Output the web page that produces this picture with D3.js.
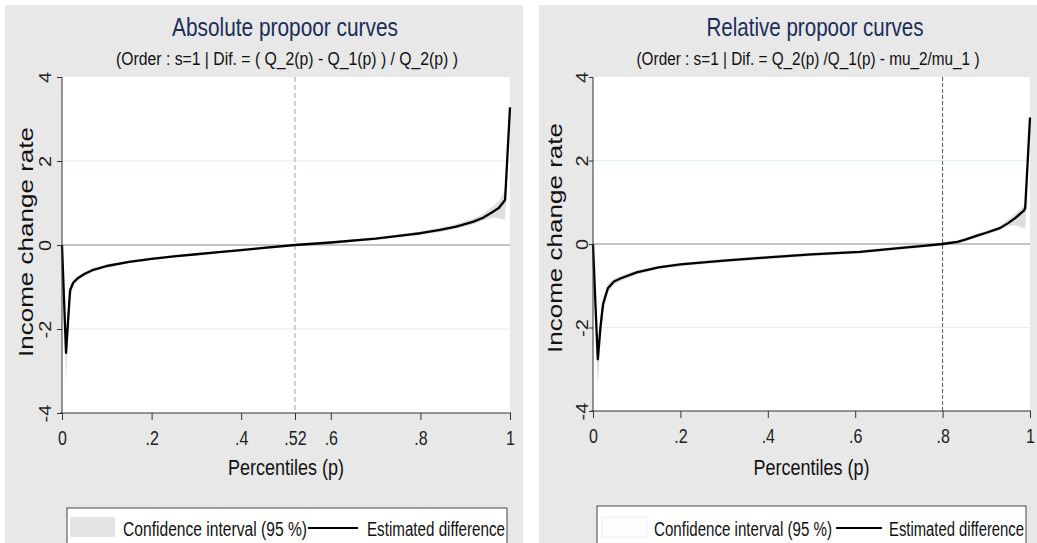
<!DOCTYPE html>
<html>
<head>
<meta charset="utf-8">
<script src="https://cdn.jsdelivr.net/npm/d3@7"></script>
<style>
  body { margin: 0; background: #fff; }
  svg { display: block; font-family: "Liberation Sans", Arial, sans-serif; }
</style>
</head>
<body>
<svg id="chart" width="1037" height="543"></svg>
<script>
'use strict';

// ---- data ----
const yTicks = [-4, -2, 0, 2, 4];
const yTickLabels = ["-4", "-2", "0", "2", "4"];

// absolute propoor curve
const pAbs   = [0, 0.004, 0.009, 0.013, 0.018, 0.025, 0.035, 0.05, 0.07, 0.1, 0.15, 0.2, 0.25, 0.3, 0.35, 0.4, 0.45, 0.52, 0.6, 0.7, 0.77, 0.8, 0.844, 0.88, 0.917, 0.94, 0.962, 0.975, 0.989, 1];
const estAbs = [0, -1.15, -2.57, -1.9, -1.08, -0.9, -0.79, -0.69, -0.59, -0.5, -0.4, -0.33, -0.27, -0.22, -0.17, -0.12, -0.07, 0, 0.06, 0.15, 0.24, 0.28, 0.36, 0.44, 0.55, 0.65, 0.79, 0.88, 1.07, 3.28];
const loAbs  = [0, -1.5, -3.3, -2.3, -1.3, -0.98, -0.85, -0.74, -0.63, -0.54, -0.43, -0.36, -0.3, -0.25, -0.2, -0.15, -0.1, -0.03, 0.03, 0.12, 0.2, 0.24, 0.31, 0.39, 0.49, 0.58, 0.66, 0.63, 0.6, 3.2];
const hiAbs  = [0, -1.0, -2.4, -1.6, -0.95, -0.83, -0.74, -0.64, -0.55, -0.46, -0.37, -0.3, -0.24, -0.19, -0.14, -0.09, -0.04, 0.03, 0.09, 0.18, 0.28, 0.32, 0.41, 0.5, 0.62, 0.74, 0.92, 1.05, 1.3, 3.35];
const xTicksAbs = [0, 0.2, 0.4, 0.52, 0.6, 0.8, 1];
const xLabelsAbs = ["0", ".2", ".4", ".52", ".6", ".8", "1"];
const crossAbs = 0.52;

// relative propoor curve
const pRel   = [0, 0.005, 0.011, 0.017, 0.023, 0.034, 0.048, 0.064, 0.1, 0.15, 0.2, 0.3, 0.4, 0.5, 0.611, 0.7, 0.75, 0.8, 0.834, 0.85, 0.879, 0.9, 0.931, 0.95, 0.966, 0.986, 0.989, 1];
const estRel = [0, -1.3, -2.76, -2.0, -1.44, -1.06, -0.9, -0.82, -0.68, -0.56, -0.49, -0.4, -0.32, -0.25, -0.19, -0.1, -0.05, 0, 0.05, 0.1, 0.2, 0.27, 0.38, 0.5, 0.62, 0.8, 0.86, 3.03];
const loRel  = [0, -1.7, -3.45, -2.4, -1.65, -1.18, -0.98, -0.88, -0.73, -0.6, -0.53, -0.44, -0.36, -0.29, -0.23, -0.14, -0.09, -0.04, 0.01, 0.06, 0.15, 0.22, 0.33, 0.43, 0.45, 0.38, 0.36, 2.95];
const hiRel  = [0, -1.0, -2.6, -1.7, -1.28, -0.96, -0.83, -0.76, -0.63, -0.52, -0.45, -0.36, -0.28, -0.21, -0.15, -0.06, -0.01, 0.04, 0.09, 0.14, 0.25, 0.32, 0.44, 0.58, 0.72, 0.92, 0.98, 3.1];
const xTicksRel = [0, 0.2, 0.4, 0.6, 0.8, 1];
const xLabelsRel = ["0", ".2", ".4", ".6", ".8", "1"];
const crossRel = 0.8;

const svg = d3.select("#chart");

function drawPanel(cfg) {
  const g = svg.append("g");

  // grey graph region
  g.append("rect")
    .attr("x", cfg.bg[0]).attr("y", 5)
    .attr("width", cfg.bg[1] - cfg.bg[0]).attr("height", 543 - 5)
    .attr("fill", "#e8e8e8");

  const x = d3.scaleLinear().domain([0, 1]).range([cfg.left, cfg.right]);
  const y = d3.scaleLinear().domain([-4, 4]).range([cfg.bottom, 77]);

  // plot region
  g.append("rect")
    .attr("x", cfg.left).attr("y", 77)
    .attr("width", cfg.right - cfg.left).attr("height", cfg.bottom - 77)
    .attr("fill", "#fff");

  // grid lines
  g.selectAll(".grid").data([-2, 2]).enter().append("line")
    .attr("x1", cfg.left).attr("x2", cfg.right)
    .attr("y1", d => y(d)).attr("y2", d => y(d))
    .attr("stroke", "#e2eef0").attr("stroke-width", 1.2);

  const rows = cfg.p.map((p, i) => ({ p: p, est: cfg.est[i], lo: cfg.lo[i], hi: cfg.hi[i] }));

  // confidence band
  g.append("path").datum(rows)
    .attr("d", d3.area().x(d => x(d.p)).y0(d => y(d.lo)).y1(d => y(d.hi)))
    .attr("fill", "#dedede");

  // zero line
  g.append("line")
    .attr("x1", cfg.left).attr("x2", cfg.right)
    .attr("y1", y(0)).attr("y2", y(0))
    .attr("stroke", "#8c8c8c").attr("stroke-width", 1.2);

  // crossing line
  g.append("line")
    .attr("x1", x(cfg.cross)).attr("x2", x(cfg.cross))
    .attr("y1", 77).attr("y2", cfg.bottom)
    .attr("stroke", cfg.crossColor).attr("stroke-width", 1)
    .attr("stroke-dasharray", cfg.crossDash);

  // estimated difference
  g.append("path").datum(rows)
    .attr("d", d3.line().x(d => x(d.p)).y(d => y(d.est)))
    .attr("fill", "none").attr("stroke", "#000").attr("stroke-width", 2.3)
    .attr("stroke-linejoin", "round");

  // x axis
  const xa = g.append("g").attr("transform", `translate(0,${cfg.bottom})`)
    .call(d3.axisBottom(x).tickValues(cfg.xTicks).tickSize(7)
      .tickFormat((d, i) => cfg.xLabels[i]));
  xa.select(".domain").attr("stroke", "#333").attr("d", `M${cfg.left - 2},0H${cfg.right + 1}`);
  xa.selectAll(".tick line").attr("stroke", "#333");
  xa.selectAll(".tick text")
    .attr("y", 32).attr("dy", null)
    .attr("transform", "scale(0.8,1)")
    .attr("font-size", 20).attr("fill", "#222");

  // y axis
  const ya = g.append("g").attr("transform", `translate(${cfg.left},0)`)
    .call(d3.axisLeft(y).tickValues(yTicks).tickSize(cfg.ytick)
      .tickFormat((d, i) => yTickLabels[i]));
  ya.select(".domain").attr("stroke", "#333").attr("d", `M0,77V${cfg.bottom}`);
  ya.selectAll(".tick line").attr("stroke", "#333");
  ya.selectAll(".tick text")
    .attr("x", 0).attr("dy", null).attr("text-anchor", "middle")
    .attr("transform", `translate(${-cfg.ylabGap},0) scale(0.8,1) rotate(-90)`)
    .attr("font-size", 20).attr("fill", "#222");

  // titles
  g.append("text").attr("x", cfg.titleX).attr("y", 36)
    .attr("text-anchor", "middle").attr("font-size", 26).attr("fill", "#1c2d5a")
    .attr("textLength", cfg.titleLen).attr("lengthAdjust", "spacingAndGlyphs")
    .text(cfg.title);
  g.append("text").attr("x", cfg.subX).attr("y", 65)
    .attr("text-anchor", "middle").attr("font-size", 18).attr("fill", "#111")
    .attr("textLength", cfg.subLen).attr("lengthAdjust", "spacingAndGlyphs")
    .text(cfg.subtitle);

  // axis titles
  g.append("text").attr("x", (cfg.left + cfg.right) / 2).attr("y", 475)
    .attr("text-anchor", "middle").attr("font-size", 22).attr("fill", "#111")
    .attr("textLength", 116).attr("lengthAdjust", "spacingAndGlyphs")
    .text("Percentiles (p)");
  g.append("text")
    .attr("transform", `translate(${cfg.ylabX},${cfg.ylabY}) scale(0.8,1) rotate(-90)`)
    .attr("text-anchor", "middle").attr("font-size", 26).attr("fill", "#111")
    .attr("textLength", 230).attr("lengthAdjust", "spacingAndGlyphs")
    .text("Income change rate");

  // legend
  const L = cfg.legend;
  g.append("rect").attr("x", L.x0).attr("y", L.top)
    .attr("width", L.x1 - L.x0).attr("height", 60)
    .attr("fill", "#fff").attr("stroke", "#444").attr("stroke-width", 1);
  g.append("rect").attr("x", L.sw).attr("y", 517).attr("width", 45).attr("height", 20)
    .attr("fill", cfg.swatch).attr("stroke", cfg.swatchStroke);
  g.append("text").attr("x", L.t1).attr("y", 536).attr("font-size", 20).attr("fill", "#111")
    .attr("textLength", L.t1len).attr("lengthAdjust", "spacingAndGlyphs")
    .text("Confidence interval (95 %)");
  g.append("line").attr("x1", L.l0).attr("x2", L.l1).attr("y1", 528).attr("y2", 528)
    .attr("stroke", "#000").attr("stroke-width", 2);
  g.append("text").attr("x", L.t2).attr("y", 536).attr("font-size", 20).attr("fill", "#111")
    .attr("textLength", L.t2len).attr("lengthAdjust", "spacingAndGlyphs")
    .text("Estimated difference");
}

drawPanel({
  bg: [5, 523], left: 62, right: 510, bottom: 413,
  p: pAbs, est: estAbs, lo: loAbs, hi: hiAbs,
  xTicks: xTicksAbs, xLabels: xLabelsAbs,
  cross: crossAbs, crossColor: "#a0a0a0", crossDash: "5,3",
  ytick: 5, ylabGap: 11, ylabX: 33, ylabY: 242,
  title: "Absolute propoor curves", titleX: 285, titleLen: 226,
  subtitle: "(Order : s=1 | Dif. = ( Q_2(p) - Q_1(p) ) / Q_2(p) )", subX: 287, subLen: 342,
  swatch: "#e4e4e4", swatchStroke: "none",
  legend: { x0: 67, x1: 507, top: 508, sw: 70, t1: 123, t1len: 184, l0: 308, l1: 358, t2: 367, t2len: 138 }
});

drawPanel({
  bg: [539, 1037], left: 593, right: 1030, bottom: 411,
  p: pRel, est: estRel, lo: loRel, hi: hiRel,
  xTicks: xTicksRel, xLabels: xLabelsRel,
  cross: crossRel, crossColor: "#555", crossDash: "4,2",
  ytick: 4, ylabGap: 5, ylabX: 562, ylabY: 238,
  title: "Relative propoor curves", titleX: 815, titleLen: 217,
  subtitle: "(Order : s=1 | Dif. = Q_2(p) /Q_1(p) - mu_2/mu_1 )", subX: 808, subLen: 343,
  swatch: "#fdfdfd", swatchStroke: "#eeeeee",
  legend: { x0: 597, x1: 1026, top: 506, sw: 602, t1: 654, t1len: 178, l0: 836, l1: 882, t2: 889, t2len: 135 }
});
</script>
</body>
</html>
